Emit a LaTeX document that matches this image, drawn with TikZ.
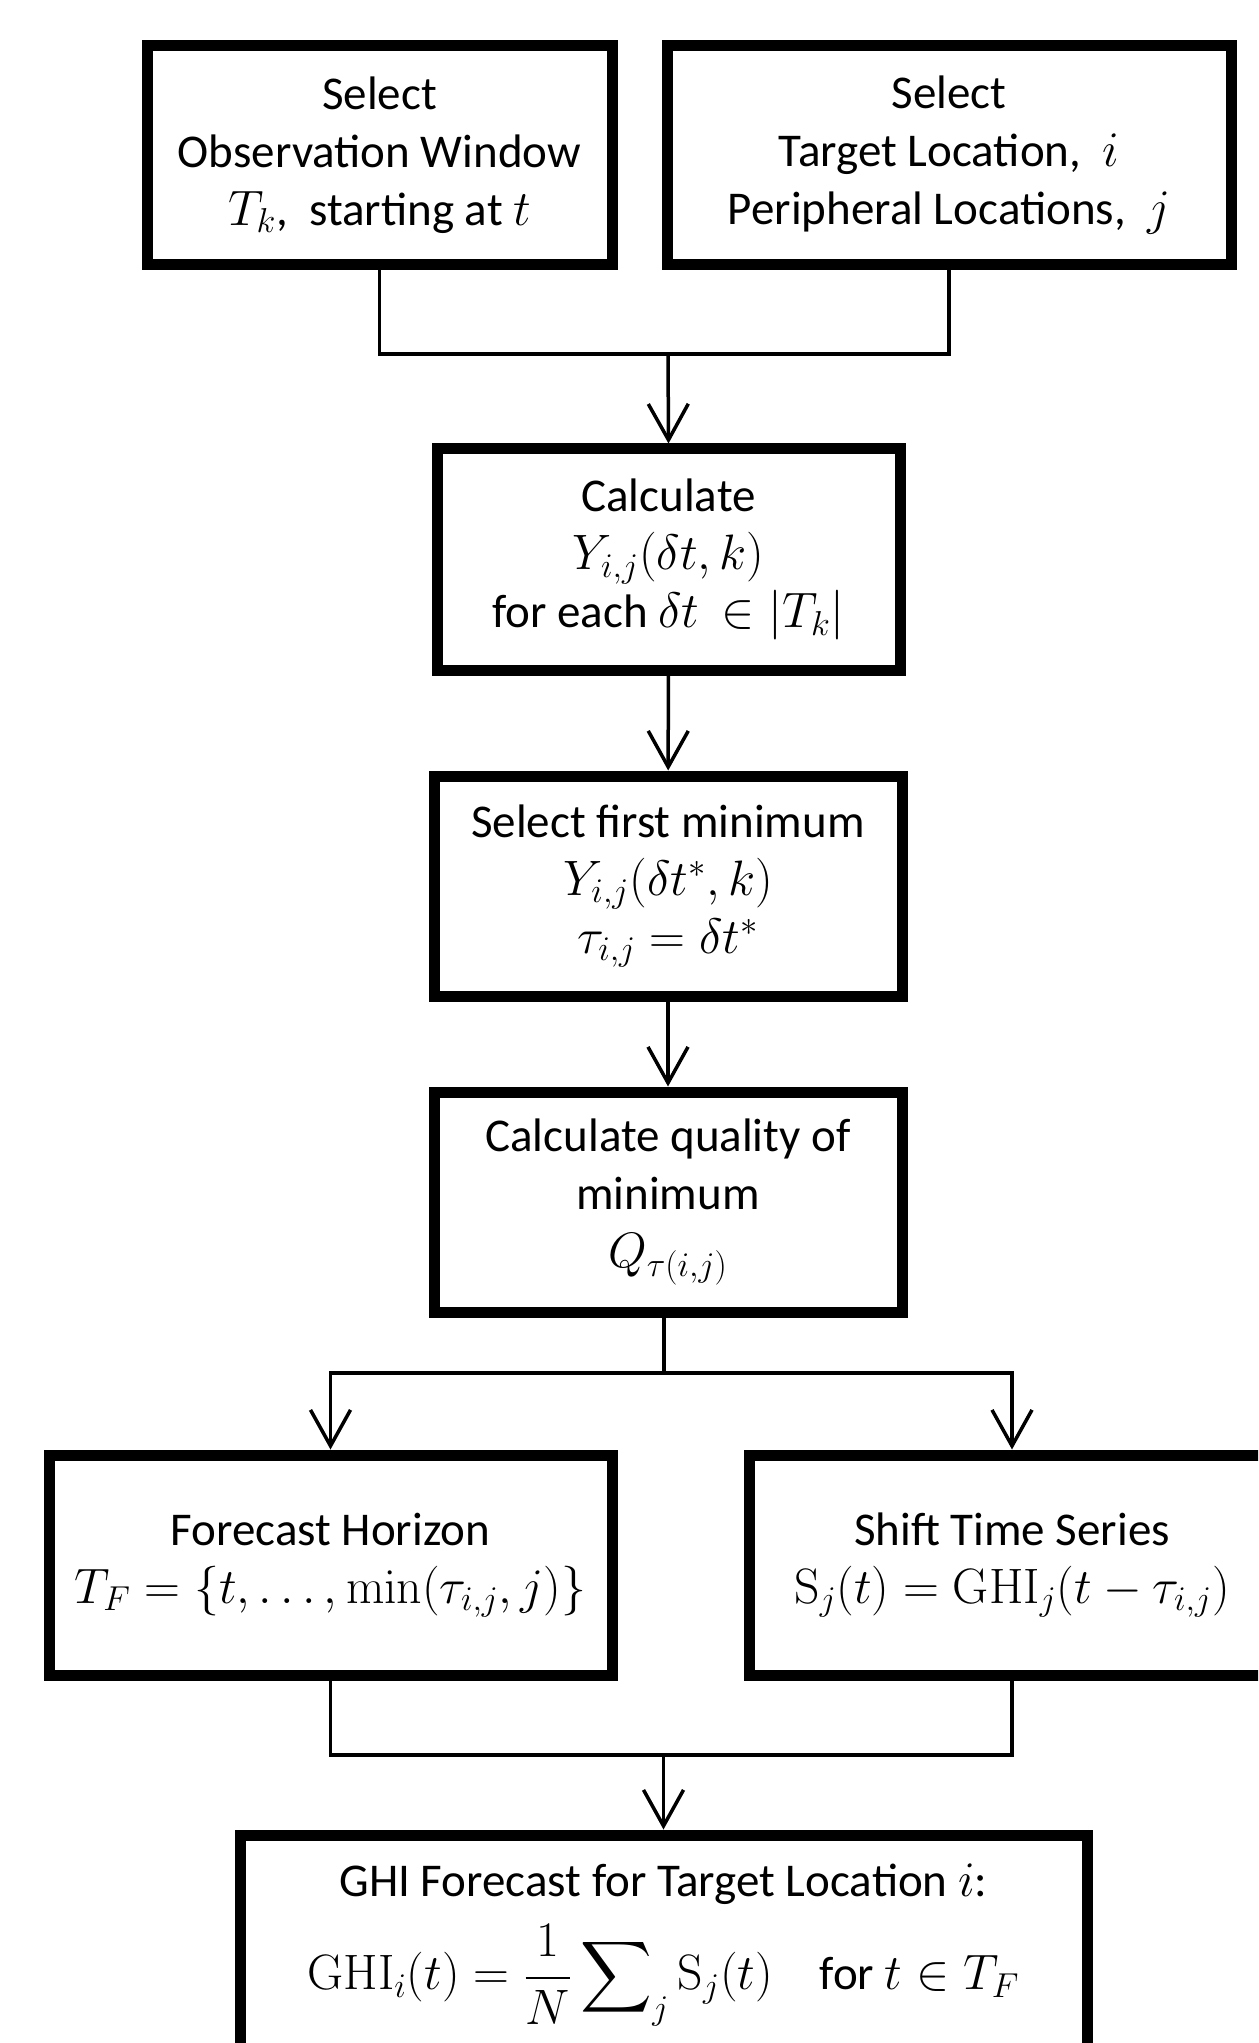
\documentclass[tikz,border=0pt]{standalone}
\usepackage{amsmath}
\usepackage[no-math]{fontspec}
\setmainfont{Carlito}
\usetikzlibrary{arrows.meta}
\begin{document}
\begin{tikzpicture}[x=0.5pt,y=-0.5pt,
  box/.style={draw, line width=5.5pt, align=center, inner sep=0pt, font=\fontsize{23.5}{29}\selectfont},
  txt/.style={align=center, inner sep=0pt, font=\fontsize{23.5}{29}\selectfont},
  conn/.style={line width=1.75pt},
  arr/.style={conn, -{Straight Barb[length=18pt,width=20pt]}}]
\useasboundingbox (0,0) rectangle (1258,2043);
\clip (0,0) rectangle (1258,2043);
\node[box, minimum width=232.5pt, minimum height=109.5pt] (b1) at (379.5,155)
  {Select\\Observation Window\\$T_k$,\ \ starting at $t$};
\node[box, minimum width=282pt, minimum height=109.5pt] (b2) at (949,155)
  {Select\\Target Location,\ \ $i$\\Peripheral Locations,\ \ $j$};
\node[box, minimum width=231.5pt, minimum height=110.5pt] (b3) at (668.5,559.5)
  {Calculate\\$Y_{i,j}(\delta t,k)$\\for each $\delta t\,\in|T_k|$};
\node[box, minimum width=234pt, minimum height=110pt] (b4) at (668,886)
  {Select first minimum\\$Y_{i,j}(\delta t^*,k)$\\$\tau_{i,j}=\delta t^*$};
\node[box, minimum width=234pt, minimum height=110pt] (b5) at (668,1202)
  {Calculate quality of\\minimum\\$Q_{\tau(i,j)}$};
\node[box, minimum width=281.5pt, minimum height=110pt] (b6) at (330.5,1565)
  {Forecast Horizon\\$T_F=\{t,\ldots,\min(\tau_{i,j},j)\}$};
\node[box, minimum width=263pt, minimum height=110pt] (b7) at (1012,1565)
  {Shift Time Series\\$\mathrm{S}_j(t)=\mathrm{GHI}_j(t-\tau_{i,j})$};
\node[box, minimum width=423.5pt, minimum height=150pt] (b8) at (663.5,1985) {};
\node[txt] (b8a) at (663.5,1884) {GHI Forecast for Target Location $i$:};
\node[txt] (b8b) at (663.5,1975)
  {$\displaystyle\mathrm{GHI}_i(t)=\frac{1}{N}\sum\nolimits_j\mathrm{S}_j(t)\quad\text{for }t\in T_F$};
\coordinate (jt) at (668,354);
\coordinate (jm) at (664,1373);
\coordinate (jb) at (663.5,1755);
\draw[conn] (b1.south) |- (jt) -| (b2.south);
\draw[arr] (jt) -- (b3.north);
\draw[arr] (b3) -- (b4);
\draw[arr] (b4) -- (b5);
\draw[conn] (b5.south -| jm) -- (jm);
\draw[arr] (jm) -| (b6.north);
\draw[arr] (jm) -| (b7.north);
\draw[conn] (b6.south) |- (jb) -| (b7.south);
\draw[arr] (jb) -- (b8.north);
\end{tikzpicture}
\end{document}
